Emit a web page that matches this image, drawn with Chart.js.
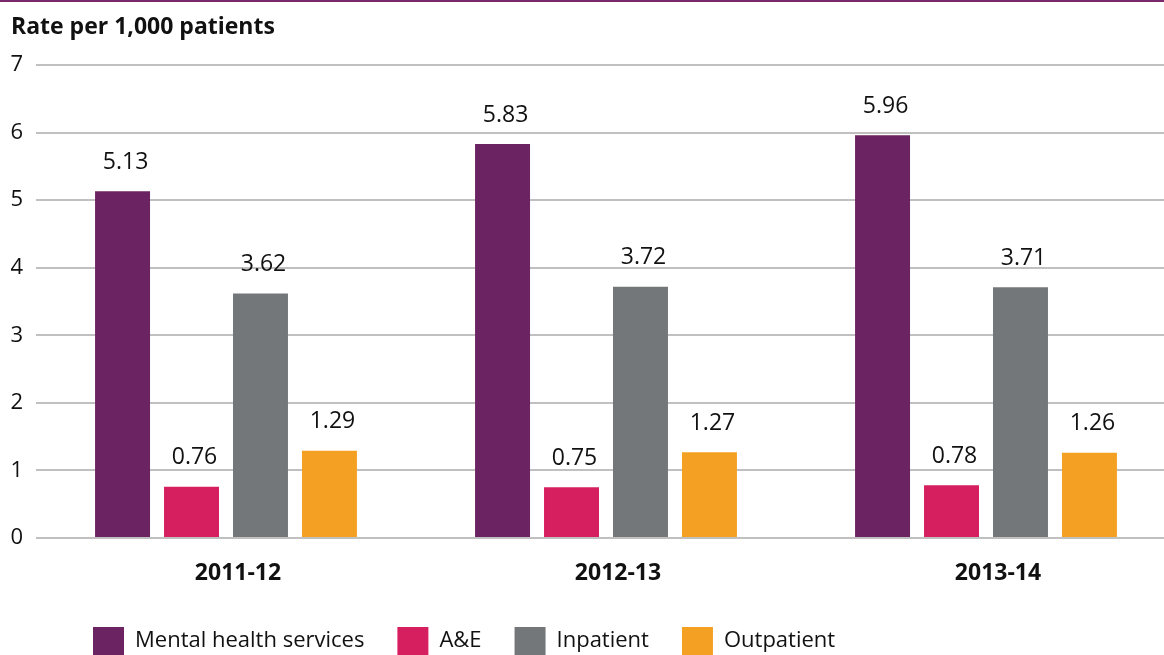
<!DOCTYPE html>
<html>
<head>
<meta charset="utf-8">
<script src="https://cdn.jsdelivr.net/npm/chart.js@4/dist/chart.umd.min.js"></script>
<style>
  html, body { margin: 0; padding: 0; background: #fff; overflow: hidden; width: 1164px; height: 655px; }
  #topline { position: absolute; left: 0; top: 0; width: 1164px; height: 2px; background: #7a2a6c; }
  #wrap { position: absolute; left: 0; top: 0; width: 1176px; height: 655px; }
</style>
</head>
<body>
<div id="wrap"><canvas id="chart"></canvas></div>
<div id="topline"></div>
<script>
const years = ["2011-12", "2012-13", "2013-14"];
const mentalHealth = [5.13, 5.83, 5.96];
const aAndE = [0.76, 0.75, 0.78];
const inpatient = [3.62, 3.72, 3.71];
const outpatient = [1.29, 1.27, 1.26];
const yTicks = [0, 1, 2, 3, 4, 5, 6, 7];

const fontName = "'Open Sans', 'Noto Sans', sans-serif";

// numbers above the bars
const valueLabels = {
    id: 'valueLabels',
    afterDatasetsDraw(chart) {
        const ctx = chart.ctx;
        ctx.save();
        ctx.font = "23px " + fontName;
        ctx.fillStyle = '#111';
        ctx.textAlign = 'center';
        ctx.textBaseline = 'middle';
        chart.data.datasets.forEach((ds, i) => {
            chart.getDatasetMeta(i).data.forEach((bar, j) => {
                ctx.fillText(ds.data[j].toFixed(2), bar.x + 3, bar.y - 29);
            });
        });
        ctx.restore();
    }
};

// nudge title and legend to where the original has them
const placeBoxes = {
    id: 'placeBoxes',
    afterLayout(chart) {
        chart.titleBlock.left = 11;
        chart.legend.left = 60;
        chart.legend.top = 594;
    }
};

const ctx = document.getElementById('chart');

new Chart(ctx, {
    type: 'bar',
    data: {
        labels: years,
        datasets: [
            { label: 'Mental health services', data: mentalHealth, backgroundColor: '#6b2361' },
            { label: 'A&E', data: aAndE, backgroundColor: '#d51f5e' },
            { label: 'Inpatient', data: inpatient, backgroundColor: '#73777a' },
            { label: 'Outpatient', data: outpatient, backgroundColor: '#f4a023' }
        ]
    },
    options: {
        responsive: true,
        maintainAspectRatio: false,
        animation: false,
        layout: { padding: 0 },
        datasets: {
            bar: { categoryPercentage: 0.726, barPercentage: 0.797 }
        },
        scales: {
            x: {
                grid: { display: false, drawTicks: false },
                border: { display: false },
                ticks: {
                    color: '#111',
                    font: { family: fontName, size: 23, weight: 'bold' },
                    padding: 22,
                    labelOffset: 12
                },
                afterFit(scale) { scale.height = 46; }
            },
            y: {
                min: 0,
                max: 7,
                afterBuildTicks(scale) { scale.ticks = yTicks.map(v => ({ value: v })); },
                grid: { color: '#c0c0c0', lineWidth: 2, drawTicks: false },
                border: { display: false },
                ticks: {
                    color: '#111',
                    font: { family: fontName, size: 22 },
                    padding: 13
                },
                afterFit(scale) { scale.width = 36; }
            }
        },
        plugins: {
            title: {
                display: true,
                text: 'Rate per 1,000 patients',
                align: 'start',
                color: '#111',
                font: { family: fontName, size: 23, weight: 'bold' },
                padding: { top: 14, bottom: 23.4 }
            },
            legend: {
                position: 'bottom',
                align: 'start',
                labels: {
                    boxWidth: 31,
                    boxHeight: 28,
                    padding: 33,
                    color: '#111',
                    font: { family: fontName, size: 22 }
                }
            },
            tooltip: { enabled: false }
        }
    },
    plugins: [valueLabels, placeBoxes]
});
</script>
</body>
</html>
